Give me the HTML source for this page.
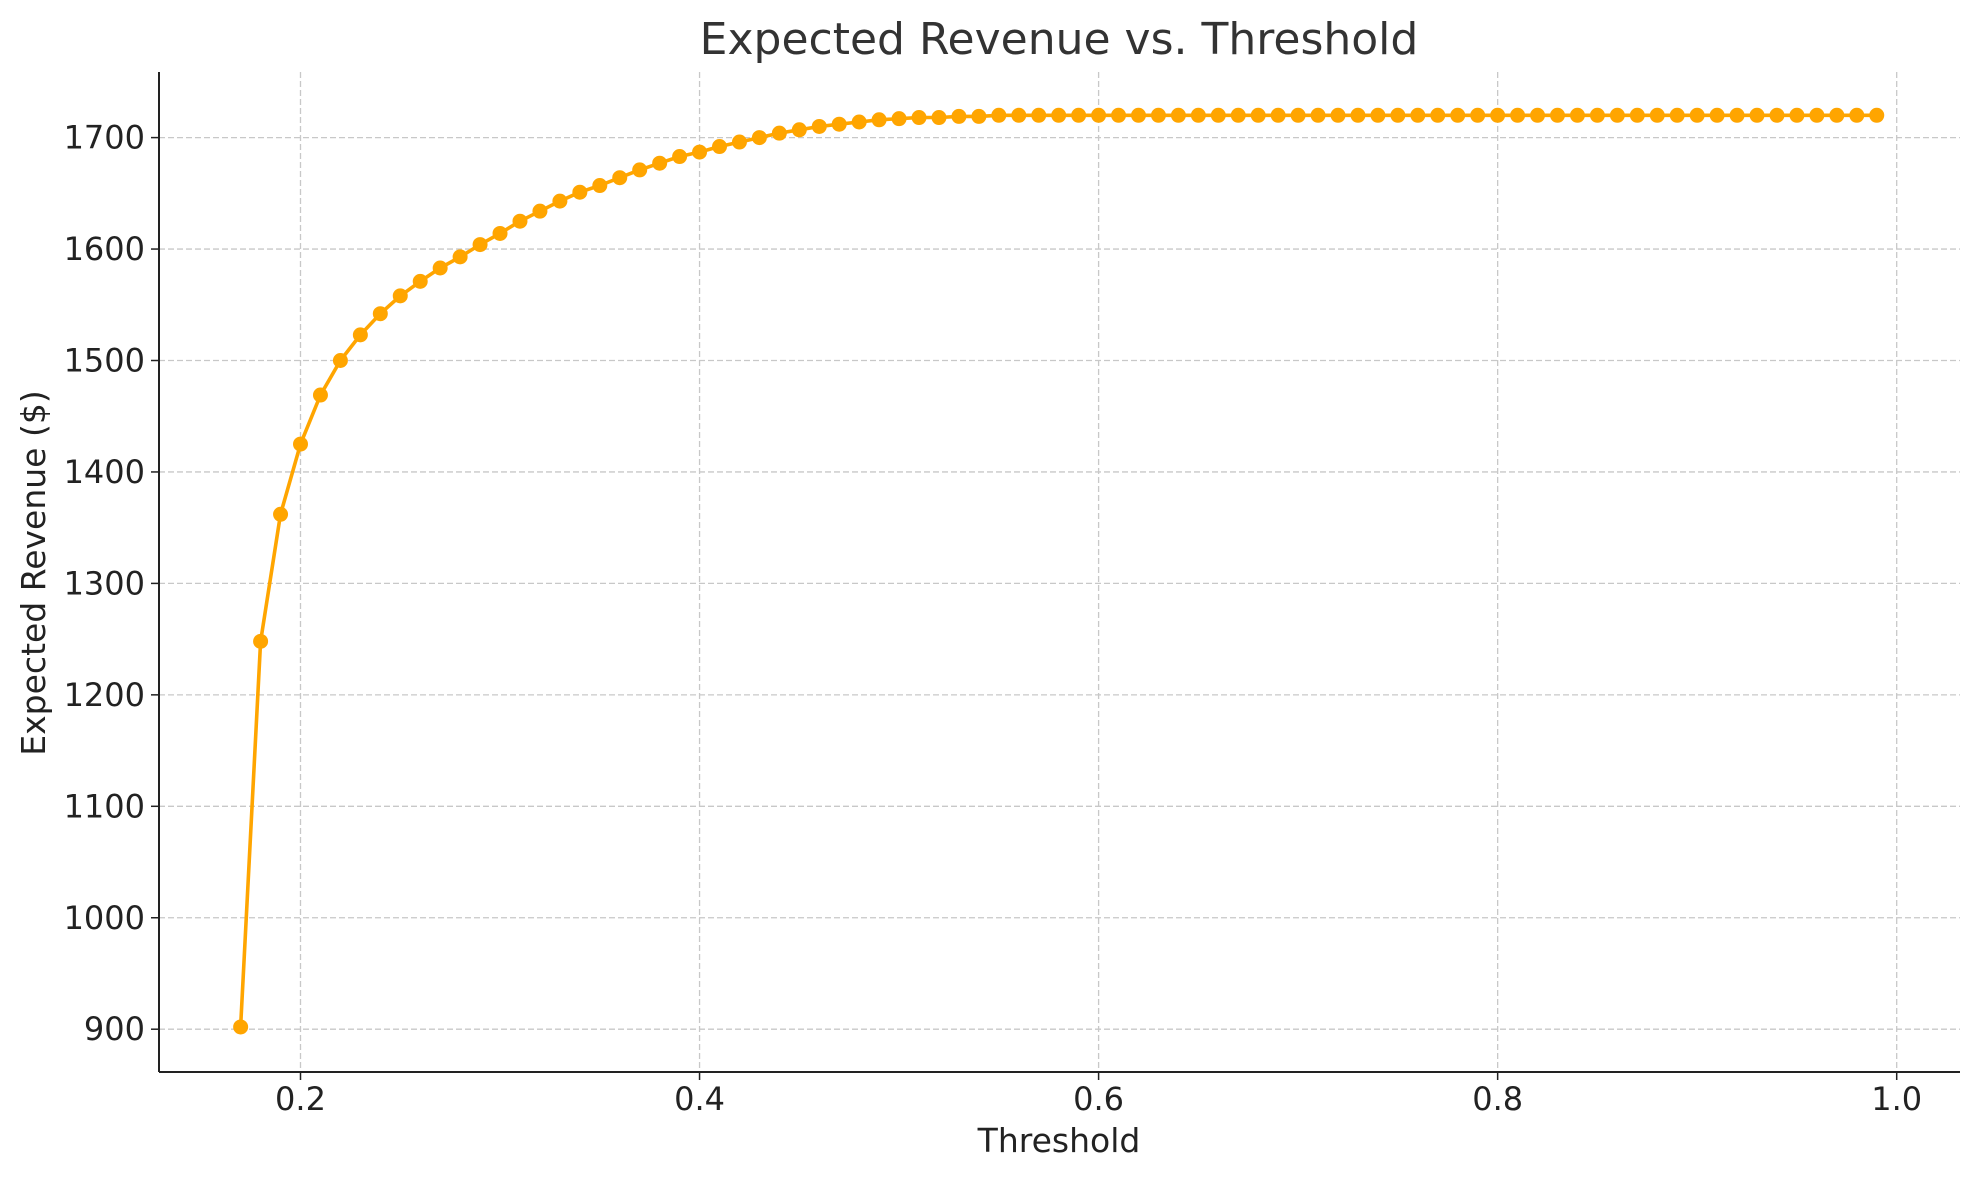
<!DOCTYPE html>
<html><head><meta charset="utf-8">
<style>
html,body{margin:0;padding:0;background:#fff;}
svg{display:block;font-family:"DejaVu Sans","Liberation Sans",sans-serif;}
</style></head>
<body>
<svg id="chart" width="1980" height="1180" viewBox="0 0 1980 1180">
<g id="grid"></g>
<g id="axes"></g>
<g id="series"></g>
<text x="1059" y="54" text-anchor="middle" font-size="44" fill="#333">Expected Revenue vs. Threshold</text>
<text x="1059" y="1152" text-anchor="middle" font-size="33" fill="#222">Threshold</text>
<text transform="translate(45,573) rotate(-90)" text-anchor="middle" font-size="33" fill="#222">Expected Revenue ($)</text>
</svg>
<script>
const thresholds = [0.17,0.18,0.19,0.20,0.21,0.22,0.23,0.24,0.25,0.26,0.27,0.28,0.29,0.30,0.31,0.32,0.33,0.34,0.35,0.36,0.37,0.38,0.39,0.40,0.41,0.42,0.43,0.44,0.45,0.46,0.47,0.48,0.49,0.50,0.51,0.52,0.53,0.54,0.55,0.56,0.57,0.58,0.59,0.60,0.61,0.62,0.63,0.64,0.65,0.66,0.67,0.68,0.69,0.70,0.71,0.72,0.73,0.74,0.75,0.76,0.77,0.78,0.79,0.80,0.81,0.82,0.83,0.84,0.85,0.86,0.87,0.88,0.89,0.90,0.91,0.92,0.93,0.94,0.95,0.96,0.97,0.98,0.99];
const revenue = [902,1248,1362,1425,1469,1500,1523,1542,1558,1571,1583,1593,1604,1614,1625,1634,1643,1651,1657,1664,1671,1677,1683,1687,1692,1696,1700,1704,1707,1710,1712,1714,1716,1717,1718,1718,1719,1719,1720,1720,1720,1720,1720,1720,1720,1720,1720,1720,1720,1720,1720,1720,1720,1720,1720,1720,1720,1720,1720,1720,1720,1720,1720,1720,1720,1720,1720,1720,1720,1720,1720,1720,1720,1720,1720,1720,1720,1720,1720,1720,1720,1720,1720];
const xTicks = [0.2,0.4,0.6,0.8,1.0];
const xTickLabels = ["0.2","0.4","0.6","0.8","1.0"];
const yTicks = [900,1000,1100,1200,1300,1400,1500,1600,1700];

const NS="http://www.w3.org/2000/svg";
const L=159,R=1960,T=72,B=1072;
function xs(v){return 300.5+(v-0.2)*(1896.7-300.5)/0.8;}
function ys(v){return 1029.2-(v-900)*(1029.2-137.6)/800;}
function mk(tag,attrs,parent){const e=document.createElementNS(NS,tag);for(const k in attrs)e.setAttribute(k,attrs[k]);parent.appendChild(e);return e;}
const grid=document.getElementById('grid'),axes=document.getElementById('axes'),series=document.getElementById('series');
xTicks.forEach((t,i)=>{
  const x=xs(t);
  const g=mk('line',{x1:x,x2:x,y1:T,y2:B,stroke:'#c8c8c8','stroke-width':1.3,'stroke-dasharray':'6,3'},grid);
  
  
  const tk=mk('line',{x1:x,x2:x,y1:B,y2:B+8,stroke:'#222','stroke-width':1.5},axes);
  
  
  const lb=mk('text',{x:x,y:B+38,'text-anchor':'middle','font-size':32,fill:'#222'},axes);
  lb.textContent=xTickLabels[i];
  
  
});
yTicks.forEach(t=>{
  const y=ys(t);
  const g=mk('line',{x1:L,x2:R,y1:y,y2:y,stroke:'#c8c8c8','stroke-width':1.3,'stroke-dasharray':'6,3'},grid);
  
  
  const tk=mk('line',{x1:L-8,x2:L,y1:y,y2:y,stroke:'#222','stroke-width':1.5},axes);
  
  
  const lb=mk('text',{x:L-14,y:y+11,'text-anchor':'end','font-size':32,fill:'#222'},axes);
  lb.textContent=String(t);
  
  
});
const la=mk('line',{x1:L,x2:L,y1:T,y2:B,stroke:'#222','stroke-width':2},axes);


const ba=mk('line',{x1:L,x2:R,y1:B,y2:B,stroke:'#222','stroke-width':2},axes);


const pts=thresholds.map((t,i)=>xs(t).toFixed(1)+','+ys(revenue[i]).toFixed(1)).join(' ');
const line=mk('polyline',{points:pts,fill:'none',stroke:'#FFA500','stroke-width':3.6,'stroke-linejoin':'round'},series);


thresholds.forEach((t,i)=>{
  const c=mk('circle',{cx:xs(t),cy:ys(revenue[i]),r:7.5,fill:'#FFA500'},series);
  
  
});
</script>
</body></html>
